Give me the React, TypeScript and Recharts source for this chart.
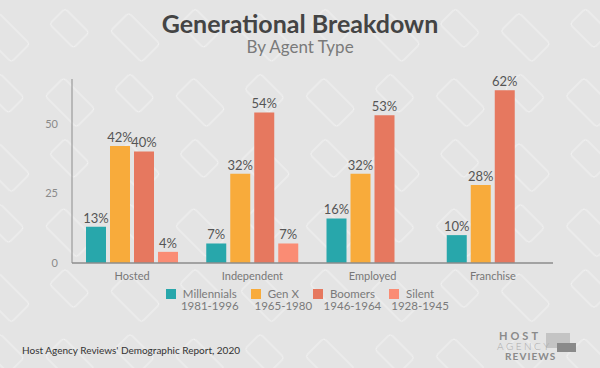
import React from 'react';
import { BarChart, Bar, XAxis, YAxis, LabelList } from 'recharts';

const categories = ['Hosted', 'Independent', 'Employed', 'Franchise'];
const millennials = [13, 7, 16, 10];
const genX = [42, 32, 32, 28];
const boomers = [40, 54, 53, 62];
const silent: (number | null)[] = [4, 7, null, null];
const yTicks = [0, 25, 50];

const series = [
  { key: 'millennials', name: 'Millennials', years: '1981-1996', color: '#28A7AB' },
  { key: 'genX', name: 'Gen X', years: '1965-1980', color: '#F8AB3B' },
  { key: 'boomers', name: 'Boomers', years: '1946-1964', color: '#E6785F' },
  { key: 'silent', name: 'Silent', years: '1928-1945', color: '#FA8C74' },
];

const data = categories.map((name, i) => ({
  name,
  millennials: millennials[i],
  genX: genX[i],
  boomers: boomers[i],
  silent: silent[i],
}));

const font = 'Lato, "Open Sans", sans-serif';

const pct = (v: any) => (v == null ? '' : `${v}%`);

// faint white outline pattern of the background
const Backdrop = () => (
  <svg width={600} height={368} style={{ position: 'absolute', left: 0, top: 0 }}>
    <defs>
      <pattern id="bg" width={92} height={92} patternUnits="userSpaceOnUse" patternTransform="rotate(45)">
        <rect x={8} y={10} width={44} height={26} rx={3} fill="none" stroke="#f2f2f2" strokeWidth={1} />
        <rect x={52} y={52} width={34} height={22} rx={3} fill="none" stroke="#f2f2f2" strokeWidth={1} />
      </pattern>
    </defs>
    <rect width={600} height={368} fill="#E4E4E4" />
    <rect width={600} height={368} fill="url(#bg)" />
  </svg>
);

const Logo = () => (
  <svg width={90} height={38} style={{ position: 'absolute', left: 494, top: 326 }}>
    <rect x={52} y={7} width={24} height={15} fill="#c4c4c4" />
    <rect x={63} y={17} width={19} height={9} fill="#8a8a8a" />
    <text x={5} y={14} fontFamily={font} fontWeight={700} fontSize={11} letterSpacing={3} fill="#8a8a8a">HOST</text>
    <text x={3} y={23.5} fontFamily={font} fontWeight={300} fontSize={10} letterSpacing={2.5} fill="#aaa">AGENCY</text>
    <text x={11} y={33.5} fontFamily={font} fontWeight={700} fontSize={10} letterSpacing={1.1} fill="#8a8a8a">REVIEWS</text>
  </svg>
);

export default function App() {
  return (
    <div style={{ position: 'absolute', left: 0, top: 0, width: 600, height: 368, overflow: 'hidden', fontFamily: font }}>
      <Backdrop />
      <div style={{ position: 'absolute', top: 10, width: 600, textAlign: 'center', fontSize: 25, fontWeight: 700, color: '#444', lineHeight: '26px' }}>
        Generational Breakdown
      </div>
      <div style={{ position: 'absolute', top: 38, width: 600, textAlign: 'center', fontSize: 17, color: '#7a7a7a', lineHeight: '18px' }}>
        By Agent Type
      </div>

      <BarChart
        width={600}
        height={368}
        data={data}
        margin={{ top: 79, right: 47, bottom: 75, left: 0 }}
        barSize={20}
        barGap={4}
        style={{ position: 'absolute', left: 0, top: 0 }}
      >
        <XAxis
          dataKey="name"
          height={30}
          tickLine={false}
          tickMargin={3}
          axisLine={{ stroke: '#8c8c8c', strokeWidth: 1.5 }}
          tick={{ fill: '#777', fontSize: 11, fontFamily: font }}
        />
        <YAxis
          width={72}
          domain={[0, 66]}
          ticks={yTicks}
          tickLine={false}
          tickMargin={8}
          axisLine={{ stroke: '#8c8c8c', strokeWidth: 1 }}
          tick={{ fill: '#8a8a8a', fontSize: 11, fontFamily: font }}
        />
        {series.map((s) => (
          <Bar key={s.key} dataKey={s.key} name={s.name} fill={s.color} isAnimationActive={false}>
            <LabelList dataKey={s.key} position="top" offset={4} formatter={pct} fill="#555" fontSize={13} fontFamily={font} />
          </Bar>
        ))}
      </BarChart>

      <div style={{ position: 'absolute', top: 289, left: 0, width: 600, display: 'flex', justifyContent: 'center', gap: 14, color: '#7a7a7a', fontSize: 11.5, lineHeight: '10px' }}>
        {series.map((s) => (
          <div key={s.key} style={{ display: 'flex', alignItems: 'flex-start', gap: 7 }}>
            <div style={{ width: 10, height: 10, background: s.color }} />
            <div style={{ position: 'relative' }}>
              <div style={{ whiteSpace: 'nowrap' }}>{s.name}</div>
              <div style={{ position: 'absolute', top: 11.5, left: '50%', transform: 'translateX(-50%)', whiteSpace: 'nowrap' }}>{s.years}</div>
            </div>
          </div>
        ))}
      </div>

      <div style={{ position: 'absolute', left: 22, top: 344, fontSize: 10, color: '#333' }}>
        Host Agency Reviews' Demographic Report, 2020
      </div>
      <Logo />
    </div>
  );
}
